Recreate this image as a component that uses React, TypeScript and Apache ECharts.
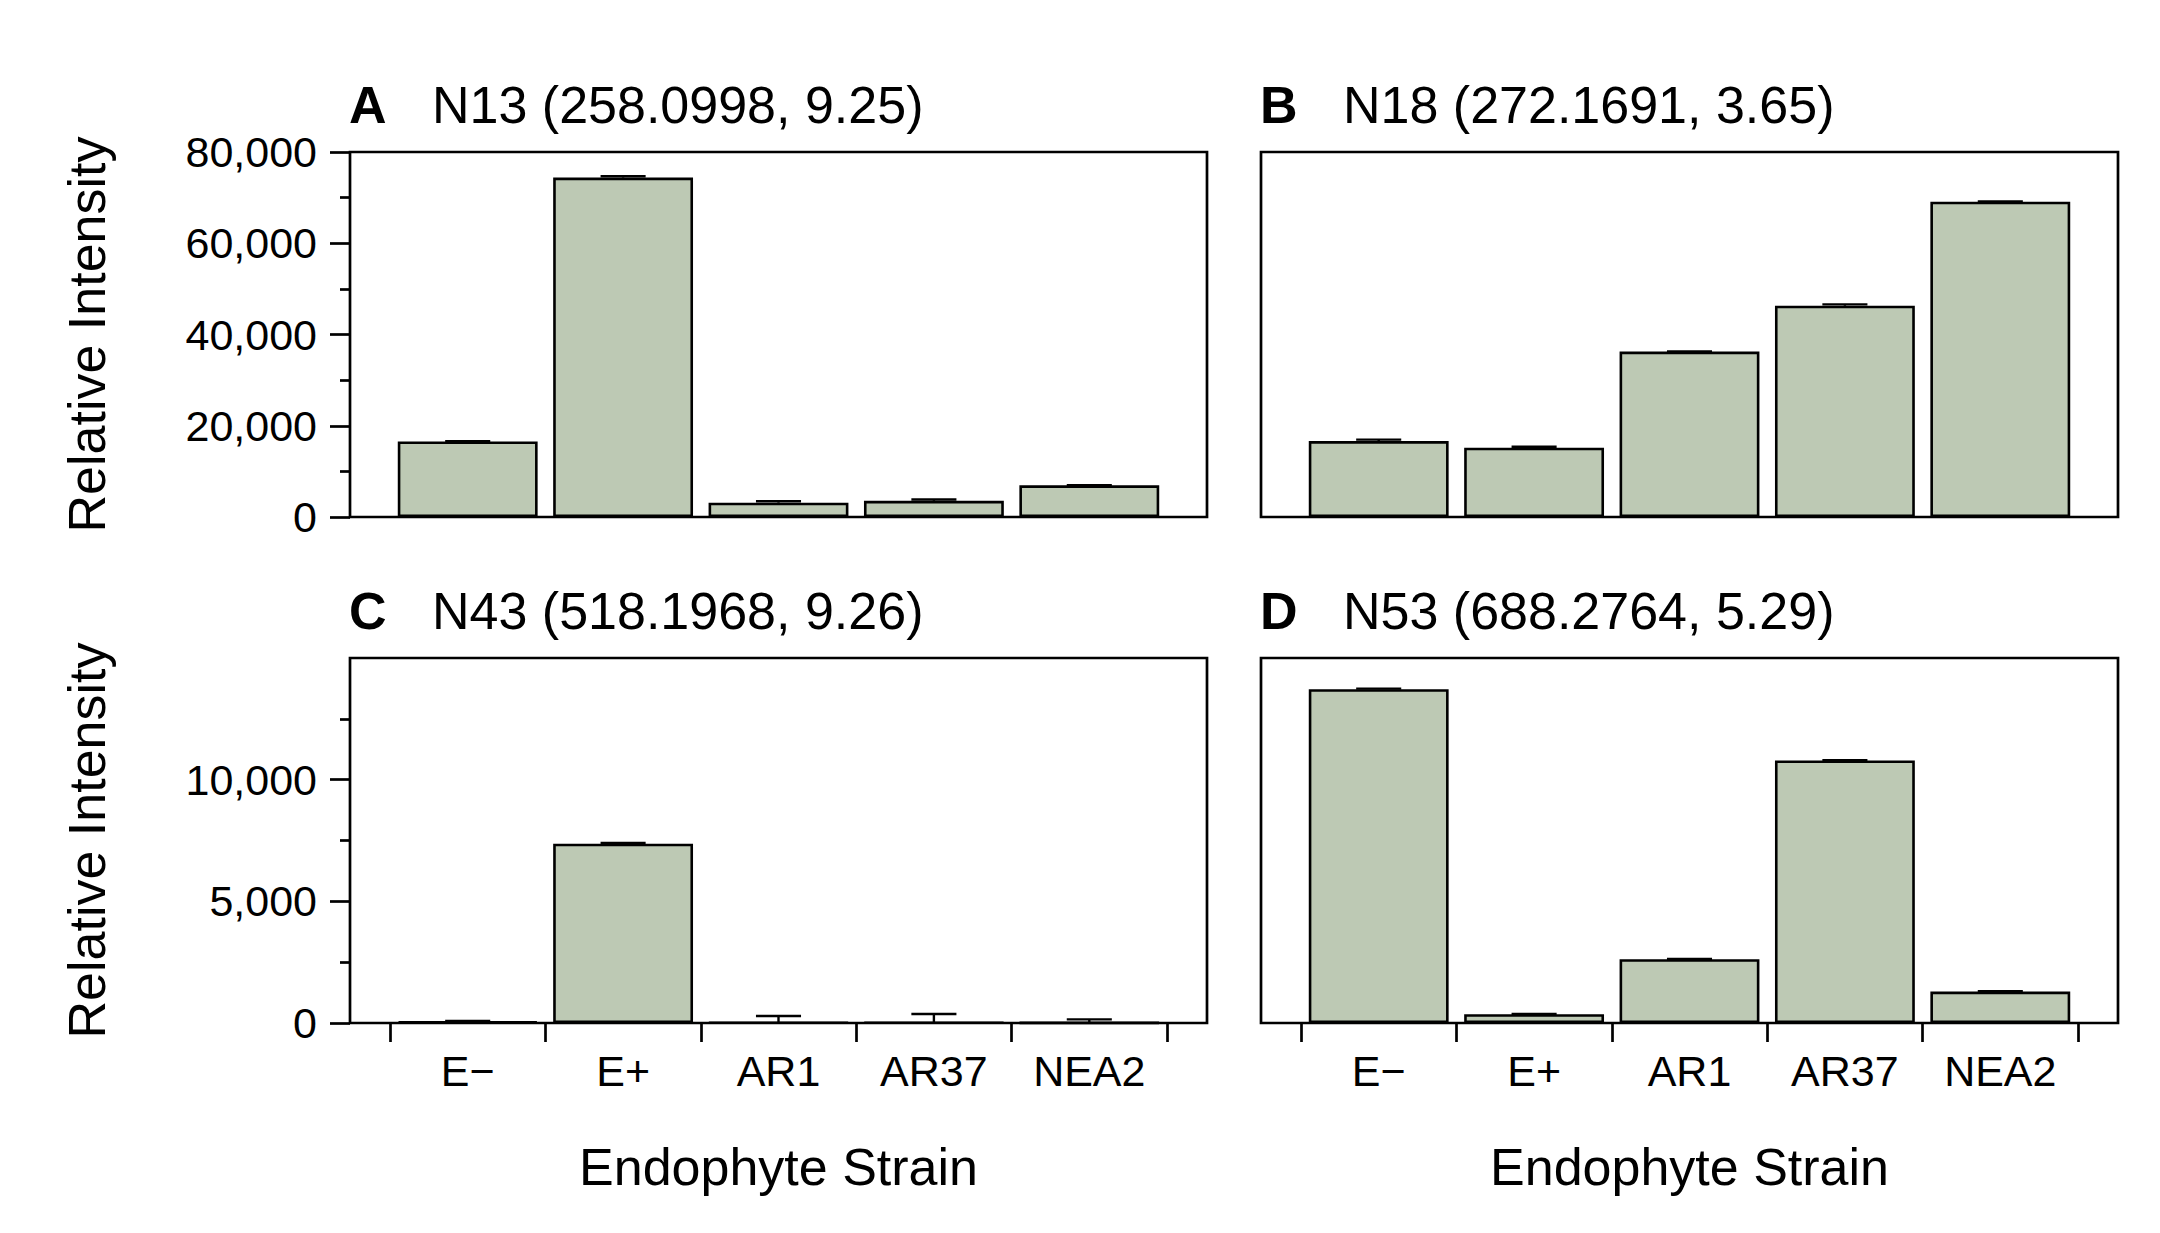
import React, { useEffect, useRef } from "react";
import * as echarts from "echarts";

const categories = ["E−", "E+", "AR1", "AR37", "NEA2"];

const titlesLetter = ["A", "B", "C", "D"];
const titlesText = [
  "N13 (258.0998, 9.25)",
  "N18 (272.1691, 3.65)",
  "N43 (518.1968, 9.26)",
  "N53 (688.2764, 5.29)",
];

const valuesA = [16550, 74400, 3150, 3550, 6950];
const errorsA = [40, 300, 300, 280, 40];
const valuesB = [16650, 15200, 36250, 46300, 69100];
const errorsB = [300, 200, 60, 300, 60];
const valuesC = [60, 7370, 20, 20, 10];
const errorsC = [20, 30, 270, 350, 140];
const valuesD = [13720, 360, 2620, 10790, 1290];
const errorsD = [20, 15, 15, 15, 15];

const yTopMax = 80000;
const yTopInterval = 20000;
const yBottomMax = 15000;
const yBottomInterval = 5000;
const yBottomTicks = [0, 5000, 10000];

const FONT = "Liberation Sans";
const BAR_COLOR = "#bdc9b4";

function fmt(v: number): string {
  return String(Math.round(v)).replace(/\B(?=(\d{3})+(?!\d))/g, ",");
}

export default function App() {
  const ref = useRef<HTMLDivElement>(null);

  useEffect(() => {
    if (!ref.current) return;
    const chart = echarts.init(ref.current, null, { renderer: "svg" });

    const boxLefts = [350, 1261, 350, 1261];
    const boxTops = [152, 152, 658, 658];
    const boxW = 857;
    const boxH = 365;
    const pad = 40;

    const allValues = [valuesA, valuesB, valuesC, valuesD];
    const allErrors = [errorsA, errorsB, errorsC, errorsD];

    const grids: any[] = [];
    const xAxes: any[] = [];
    const yAxes: any[] = [];
    const series: any[] = [];
    const titles: any[] = [];

    for (let i = 0; i < 4; i++) {
      const isBottom = i >= 2;
      const isLeft = i % 2 === 0;
      grids.push({
        left: boxLefts[i] + pad,
        top: boxTops[i],
        width: boxW - 2 * pad,
        height: boxH,
        containLabel: false,
      });
      xAxes.push({
        type: "category",
        gridIndex: i,
        data: categories,
        boundaryGap: true,
        axisLine: { show: false },
        axisTick: {
          show: isBottom,
          interval: 0,
          inside: false,
          length: 19,
          lineStyle: { color: "#000", width: 2.7 },
        },
        axisLabel: {
          show: isBottom,
          interval: 0,
          margin: 26,
          fontFamily: FONT,
          fontSize: 43,
          color: "#000",
        },
        name: isBottom ? "Endophyte Strain" : "",
        nameLocation: "middle",
        nameGap: 118,
        nameTextStyle: { fontFamily: FONT, fontSize: 52, color: "#000" },
        splitLine: { show: false },
      });
      const yAxis: any = {
        type: "value",
        gridIndex: i,
        min: 0,
        max: isBottom ? yBottomMax : yTopMax,
        interval: isBottom ? yBottomInterval : yTopInterval,
        offset: pad,
        show: isLeft,
        axisLine: { show: false },
        axisTick: {
          show: true,
          inside: false,
          length: 20,
          lineStyle: { color: "#000", width: 2.7 },
        },
        minorTick: {
          show: true,
          splitNumber: 2,
          length: 10,
          lineStyle: { color: "#000", width: 2.7 },
        },
        axisLabel: {
          margin: 33,
          fontFamily: FONT,
          fontSize: 43,
          color: "#000",
          formatter: (v: number) => (isBottom && v > 10000 ? "" : fmt(v)),
        },
        splitLine: { show: false },
        minorSplitLine: { show: false },
        name: isLeft ? "Relative Intensity" : "",
        nameLocation: "middle",
        nameGap: 237,
        nameTextStyle: { fontFamily: FONT, fontSize: 52, color: "#000" },
      };
      if (isBottom) {
        yAxis.axisTick.customValues = yBottomTicks;
        yAxis.axisLabel.customValues = yBottomTicks;
      }
      yAxes.push(yAxis);

      series.push({
        type: "bar",
        xAxisIndex: i,
        yAxisIndex: i,
        data: allValues[i],
        barWidth: "90%",
        itemStyle: {
          color: BAR_COLOR,
          borderColor: "#000",
          borderWidth: 2.6,
        },
        z: 2,
      });
      series.push({
        type: "custom",
        xAxisIndex: i,
        yAxisIndex: i,
        z: 3,
        data: allValues[i].map((v, k) => [k, v, allErrors[i][k]]),
        renderItem: (params: any, api: any) => {
          const x = api.value(0);
          const v = api.value(1);
          const e = api.value(2);
          const p0 = api.coord([x, v]);
          const p1 = api.coord([x, v + e]);
          const half = api.size([1, 0])[0] * 0.145;
          const st = { stroke: "#000", lineWidth: 2.4 };
          return {
            type: "group",
            children: [
              { type: "line", shape: { x1: p0[0], y1: p0[1], x2: p1[0], y2: p1[1] }, style: st },
              { type: "line", shape: { x1: p1[0] - half, y1: p1[1], x2: p1[0] + half, y2: p1[1] }, style: st },
            ],
          };
        },
      });

      titles.push({
        left: boxLefts[i] - 6,
        top: boxTops[i] - 78,
        text: "{b|" + titlesLetter[i] + "}" + titlesText[i],
        textStyle: {
          fontFamily: FONT,
          fontSize: 52,
          fontWeight: "normal",
          color: "#000",
          rich: {
            b: { fontFamily: FONT, fontSize: 52, fontWeight: "bold", color: "#000", width: 83 },
          },
        },
      });
    }

    for (let i = 0; i < 4; i++) {
      grids.push({
        left: boxLefts[i],
        top: boxTops[i],
        width: boxW,
        height: boxH,
        show: true,
        backgroundColor: "transparent",
        borderColor: "#000",
        borderWidth: 2.7,
        z: 5,
      });
    }

    chart.setOption({
      animation: false,
      backgroundColor: "#fff",
      title: titles,
      grid: grids,
      xAxis: xAxes,
      yAxis: yAxes,
      series,
    });

    const onResize = () => chart.resize();
    window.addEventListener("resize", onResize);
    return () => {
      window.removeEventListener("resize", onResize);
      chart.dispose();
    };
  }, []);

  return (
    <div
      ref={ref}
      style={{ position: "fixed", left: 0, top: 0, width: "2160px", height: "1233px", background: "#fff" }}
    />
  );
}
